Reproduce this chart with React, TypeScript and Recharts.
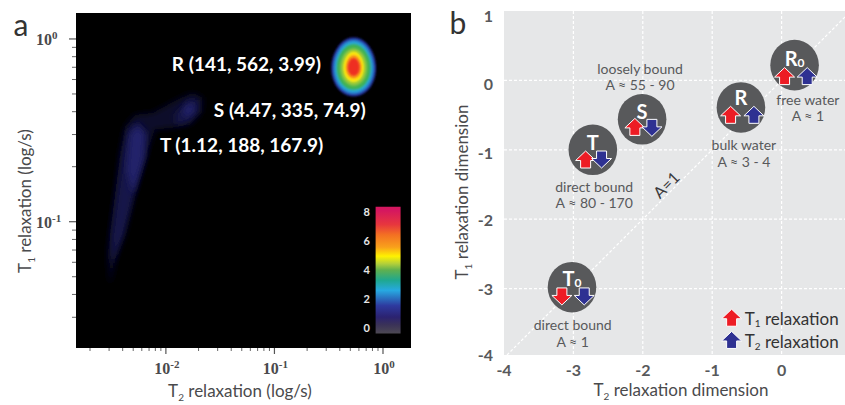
import { ScatterChart, Scatter, XAxis, YAxis, CartesianGrid, ReferenceArea, ReferenceLine } from 'recharts'

type Pt = [number, number]

// panel a, everything in log10 seconds
const decades = [-2, -1, 0]
const minorLogs = [0.301, 0.477, 0.602, 0.699, 0.778, 0.845, 0.903, 0.954]
const t2Domain = [-2.828, 0.258]
const t1Domain = [-1.691, 0.142]
const t2Minor = minorLogs.map(m => m - 3).concat(minorLogs.map(m => m - 2), minorLogs.map(m => m - 1))
const t1Minor = minorLogs.filter(m => m > 0.4).map(m => m - 2).concat(minorLogs.map(m => m - 1))

const ridgeOuter: Pt[] = [[-2.515, -1.35], [-2.534, -1.169], [-2.497, -0.989], [-2.46, -0.809], [-2.423, -0.623], [-2.377, -0.481], [-2.285, -0.415], [-2.12, -0.404], [-1.899, -0.333], [-1.752, -0.295], [-1.66, -0.322], [-1.669, -0.404], [-1.779, -0.47], [-1.936, -0.486], [-2.101, -0.497], [-2.166, -0.607], [-2.267, -0.787], [-2.359, -0.989], [-2.451, -1.169]]
const ridgeT: Pt[] = [[-2.497, -1.235], [-2.497, -1.071], [-2.442, -0.825], [-2.396, -0.634], [-2.35, -0.497], [-2.258, -0.454], [-2.175, -0.508], [-2.184, -0.634], [-2.285, -0.825], [-2.386, -1.071]]
const coreT: Pt[] = [[-2.359, -0.716], [-2.331, -0.525], [-2.258, -0.47], [-2.193, -0.525], [-2.212, -0.661], [-2.304, -0.852]]
const ridgeS: Pt[] = [[-1.917, -0.415], [-1.798, -0.333], [-1.706, -0.333], [-1.706, -0.399], [-1.798, -0.454], [-1.908, -0.47]]
const coreS: Pt[] = [[-1.844, -0.388], [-1.779, -0.35], [-1.733, -0.366], [-1.761, -0.415], [-1.825, -0.426]]

const blueContours: [Pt[], string][] = [
  [ridgeOuter, '#0a0a2a'],
  [ridgeT, '#14144a'],
  [ridgeS, '#14144a'],
  [coreT, '#20206a'],
  [coreS, '#20206a'],
]

const peakR: [Pt[], string][] = [
  [[[-0.042, -0.153], [-0.115, -0.027], [-0.27, 0.027], [-0.425, -0.027], [-0.498, -0.153], [-0.439, -0.279], [-0.27, -0.333], [-0.101, -0.279]], '#232a8e'],
  [[[-0.058, -0.153], [-0.126, -0.035], [-0.27, 0.015], [-0.414, -0.035], [-0.482, -0.153], [-0.427, -0.271], [-0.27, -0.321], [-0.113, -0.271]], '#2b6fc4'],
  [[[-0.078, -0.153], [-0.139, -0.044], [-0.27, 0.003], [-0.401, -0.044], [-0.462, -0.153], [-0.412, -0.262], [-0.27, -0.309], [-0.128, -0.262]], '#27a9d8'],
  [[[-0.098, -0.153], [-0.153, -0.056], [-0.27, -0.015], [-0.387, -0.056], [-0.442, -0.153], [-0.397, -0.25], [-0.27, -0.291], [-0.143, -0.25]], '#3fb254'],
  [[[-0.133, -0.153], [-0.177, -0.073], [-0.27, -0.039], [-0.363, -0.073], [-0.407, -0.153], [-0.371, -0.233], [-0.27, -0.267], [-0.169, -0.233]], '#8fc63f'],
  [[[-0.164, -0.153], [-0.198, -0.088], [-0.27, -0.06], [-0.342, -0.088], [-0.376, -0.153], [-0.348, -0.218], [-0.27, -0.246], [-0.192, -0.218]], '#fde910'],
  [[[-0.189, -0.153], [-0.215, -0.103], [-0.27, -0.081], [-0.325, -0.103], [-0.351, -0.153], [-0.33, -0.203], [-0.27, -0.225], [-0.21, -0.203]], '#f8981d'],
  [[[-0.209, -0.153], [-0.229, -0.115], [-0.27, -0.099], [-0.311, -0.115], [-0.331, -0.153], [-0.315, -0.191], [-0.27, -0.207], [-0.225, -0.191]], '#ee2e24'],
]

const peakLabels = [
  { x: -1.945, y: -0.137, text: 'R (141, 562, 3.99)' },
  { x: -1.558, y: -0.388, text: 'S (4.47, 335, 74.9)' },
  { x: -2.055, y: -0.579, text: 'T (1.12, 188, 167.9)' },
]
const colorbarLabels = [
  { x: -0.151, y: -0.945, text: '8' },
  { x: -0.151, y: -1.104, text: '6' },
  { x: -0.151, y: -1.262, text: '4' },
  { x: -0.151, y: -1.421, text: '2' },
  { x: -0.151, y: -1.579, text: '0' },
]
const colorbarStops: [string, string][] = [
  ['0%', '#d5175f'], ['3%', '#d5175f'], ['14%', '#e7363e'], ['22%', '#f36f23'], ['32%', '#f9a11b'],
  ['39%', '#fff200'], ['45%', '#b2cf3a'], ['50%', '#5fb04f'], ['58%', '#1fa88f'], ['66%', '#27a9e1'],
  ['78%', '#2e3a9f'], ['87%', '#2b2270'], ['93%', '#3a3258'], ['100%', '#4d4953'],
]

// panel b
const dimTicks = [-4, -3, -2, -1, 0, 1]
const gridLines = [-3, -2, -1, 0]
// the y labels drift a little off their gridlines in the original
const yLabelNudge: Record<number, number> = { 1: 5, 0: 4, '-1': 3, '-2': 1, '-3': 0, '-4': 0 }
const states = [
  { x: -2.72, y: -1.0, name: 'T', sub: '', dy: -8 },
  { x: -2.01, y: -0.56, name: 'S', sub: '', dy: -8 },
  { x: -0.586, y: -0.39, name: 'R', sub: '', dy: -10 },
  { x: 0.187, y: 0.22, name: 'R', sub: '0', dy: -7 },
  { x: -3.02, y: -2.98, name: 'T', sub: '0', dy: -9 },
]
const redUp = [{ x: -2.824, y: -1.14 }, { x: -2.114, y: -0.67 }, { x: -0.735, y: -0.496 }, { x: 0.043, y: 0.062 }, { x: -0.72, y: -3.42 }]
const redDown = [{ x: -3.166, y: -3.113 }]
const blueUp = [{ x: -0.399, y: -0.496 }, { x: 0.369, y: 0.062 }, { x: -0.72, y: -3.74 }]
const blueDown = [{ x: -2.594, y: -1.14 }, { x: -1.869, y: -0.684 }, { x: -2.844, y: -3.113 }]
const stateNotes = [
  { x: -2.04, y: 0.17, text: 'loosely bound' },
  { x: -2.04, y: -0.06, text: 'A ≈ 55 - 90' },
  { x: -2.7, y: -1.525, text: 'direct bound' },
  { x: -2.7, y: -1.76, text: 'A ≈ 80 - 170' },
  { x: -0.543, y: -0.925, text: 'bulk water' },
  { x: -0.543, y: -1.175, text: 'A ≈ 3 - 4' },
  { x: 0.379, y: -0.274, text: 'free water' },
  { x: 0.379, y: -0.5, text: 'A ≈ 1' },
  { x: -3.01, y: -3.515, text: 'direct bound' },
  { x: -3.01, y: -3.765, text: 'A ≈ 1' },
]
const lineNote = [{ x: -1.667, y: -1.5, text: 'A=1' }]
const legendNotes = [
  { x: -0.53, y: -3.43, sub: '1' },
  { x: -0.53, y: -3.75, sub: '2' },
]

const SANS = 'Lato, "Open Sans", sans-serif'
const SERIF = '"Liberation Serif", serif'
const TICK = '#555'
const INK = '#4a4a4c'

const hide = () => <g />

const LogTick = ({ x, y, payload, side }: any) => {
  const major = decades.includes(payload.value)
  const len: Record<string, number[]> = { bottom: [6, 3], top: [8, 3], left: [7, 4], right: [9, 6] }
  const l = len[side][major ? 0 : 1]
  const dir = side === 'bottom' || side === 'right' ? 1 : -1
  const vertical = side === 'bottom' || side === 'top'
  return (
    <g>
      <line
        x1={x} y1={y}
        x2={vertical ? x : x + dir * l}
        y2={vertical ? y + dir * l : y}
        stroke={TICK} strokeWidth={major ? 1.2 : 0.9}
      />
      {major && side === 'bottom' && (
        <text x={x + 1} y={y + 26} textAnchor="middle" fontFamily={SERIF} fontWeight="bold" fontSize={16} fill={INK}>
          10<tspan dy={-6} fontSize={11}>{payload.value}</tspan>
        </text>
      )}
      {major && side === 'left' && (
        <text x={36} y={y + 6} textAnchor="start" fontFamily={SERIF} fontWeight="bold" fontSize={16} fill={INK}>
          10<tspan dy={-6} fontSize={11}>{payload.value}</tspan>
        </text>
      )}
    </g>
  )
}

const DimTick = ({ x, y, payload, vertical }: any) => {
  const v = Math.round(payload.value)
  return (
    <text
      x={vertical ? x - 11 : x} y={vertical ? y + 6 + yLabelNudge[v] : y + 21}
      textAnchor={vertical ? 'end' : 'middle'}
      fontFamily={SANS} fontWeight="bold" fontSize={16} fill="#58595b"
    >
      {v}
    </text>
  )
}

const labelShape = (opts: any) => (props: any) => (
  <text x={props.cx} y={props.cy} dominantBaseline="central" fontFamily={SANS} {...opts}>
    {props.payload.text}
  </text>
)

const arrowShape = (fill: string, up: boolean) => (props: any) => {
  const s = up ? 1 : -1
  const p: Pt[] = [[0, -8.5], [10, 1], [5, 1], [5, 8.5], [-5, 8.5], [-5, 1], [-10, 1]]
  const d = p.map(([a, b]) => `${props.cx + a},${props.cy + s * b}`).join(' ')
  return <polygon points={d} fill={fill} stroke="#fff" strokeWidth={1} />
}

const stateShape = (props: any) => (
  <g>
    <ellipse cx={props.cx} cy={props.cy} rx={24.3} ry={25.3} fill="#58595b" />
    <text x={props.cx} y={props.cy + props.payload.dy} textAnchor="middle" dominantBaseline="central" fontFamily={SANS} fontWeight="bold" fontSize={20} fill="#fff">
      {props.payload.name}
      {props.payload.sub && <tspan dy={4} fontSize={12}>{props.payload.sub}</tspan>}
    </text>
  </g>
)

const legendShape = (props: any) => (
  <text x={props.cx} y={props.cy} dominantBaseline="central" fontFamily={SANS} fontSize={17} fill="#333">
    T<tspan dy={5} fontSize={10}>{props.payload.sub}</tspan><tspan dy={-5}> relaxation</tspan>
  </text>
)

function RelaxationMap() {
  return (
    <ScatterChart width={430} height={405} margin={{ top: 12, right: 18, bottom: 56, left: 75 }}>
      <defs>
        <filter id="blurWide" x="-30%" y="-30%" width="160%" height="160%"><feGaussianBlur stdDeviation="3" /></filter>
        <filter id="blurTight" x="-30%" y="-30%" width="160%" height="160%"><feGaussianBlur stdDeviation="1.2" /></filter>
        <linearGradient id="cbar" x1="0" y1="0" x2="0" y2="1">
          {colorbarStops.map(([o, c]) => <stop key={o} offset={o} stopColor={c} />)}
        </linearGradient>
      </defs>
      <CartesianGrid horizontal={false} vertical={false} fill="#000" />
      <XAxis type="number" dataKey="x" height={1} tickSize={0} tickMargin={0} domain={t2Domain} ticks={[...t2Minor, ...decades]} interval={0}
        axisLine={false} tickLine={false} tick={<LogTick side="bottom" />} />
      <XAxis type="number" dataKey="x" xAxisId="top" orientation="top" height={1} tickSize={0} tickMargin={0} domain={t2Domain} ticks={[...t2Minor, ...decades]} interval={0}
        axisLine={false} tickLine={false} tick={<LogTick side="top" />} />
      <YAxis type="number" dataKey="y" width={1} tickSize={0} tickMargin={0} domain={t1Domain} ticks={[...t1Minor, ...decades.slice(1)]} interval={0}
        axisLine={false} tickLine={false} tick={<LogTick side="left" />} />
      <YAxis type="number" dataKey="y" yAxisId="right" orientation="right" width={1} tickSize={0} tickMargin={0} domain={t1Domain} ticks={[...t1Minor, ...decades.slice(1)]} interval={0}
        axisLine={false} tickLine={false} tick={<LogTick side="right" />} />
      {blueContours.map(([pts, c], i) => (
        <Scatter key={`b${i}`} data={pts.map(([x, y]) => ({ x, y }))} shape={hide} isAnimationActive={false}
          line={{ fill: c, stroke: 'none', filter: 'url(#blurWide)' }} lineJointType="linearClosed" />
      ))}
      {peakR.map(([pts, c], i) => (
        <Scatter key={`r${i}`} data={pts.map(([x, y]) => ({ x, y }))} shape={hide} isAnimationActive={false}
          line={{ fill: c, stroke: 'none', filter: 'url(#blurTight)' }} lineJointType="basisClosed" />
      ))}
      <ReferenceArea x1={-0.068} x2={0.162} y1={-1.612} y2={-0.918} fill="url(#cbar)" fillOpacity={1} stroke="none" />
      <Scatter data={peakLabels} isAnimationActive={false} shape={labelShape({ fontWeight: 'bold', fontSize: 19, fill: '#fff' })} />
      <Scatter data={colorbarLabels} isAnimationActive={false} shape={labelShape({ fontWeight: 'bold', fontSize: 11, fill: '#e6e6e6', textAnchor: 'middle' })} />
      <text x={240} y={397} textAnchor="middle" fontFamily={SANS} fontSize={17} fill={INK}>
        T<tspan dy={4} fontSize={10}>2</tspan><tspan dy={-4}> relaxation (log/s)</tspan>
      </text>
      <text transform="translate(31,201) rotate(-90)" textAnchor="middle" fontFamily={SANS} fontSize={17} fill={INK}>
        T<tspan dy={4} fontSize={10}>1</tspan><tspan dy={-4}> relaxation (log/s)</tspan>
      </text>
      <text x={21} y={36} textAnchor="middle" fontFamily={SANS} fontSize={30} fill="#333">a</text>
    </ScatterChart>
  )
}

function DimensionPlot() {
  return (
    <ScatterChart width={420} height={405} margin={{ top: 11, right: 9, bottom: 49, left: 63 }}>
      <CartesianGrid fill="#e6e7e8" stroke="#fff" strokeDasharray="3 2" strokeWidth={1.2} verticalValues={gridLines} horizontalValues={gridLines} />
      <XAxis type="number" dataKey="x" height={1} tickSize={0} tickMargin={0} domain={[-4, 1]} ticks={dimTicks} interval={0}
        axisLine={false} tickLine={false} tick={<DimTick />} />
      <YAxis type="number" dataKey="y" width={1} tickSize={0} tickMargin={0} domain={[-3.957, 1]} ticks={[-3.957, -3, -2, -1, 0, 1]} interval={0}
        axisLine={false} tickLine={false} tick={<DimTick vertical />} />
      <ReferenceLine segment={[{ x: -3.957, y: -3.957 }, { x: 1, y: 1 }]} stroke="#fff" strokeDasharray="3 2" strokeWidth={1.2} />
      <Scatter data={states} isAnimationActive={false} shape={stateShape} />
      <Scatter data={redUp} isAnimationActive={false} shape={arrowShape('#ed1c24', true)} />
      <Scatter data={redDown} isAnimationActive={false} shape={arrowShape('#ed1c24', false)} />
      <Scatter data={blueUp} isAnimationActive={false} shape={arrowShape('#2e3192', true)} />
      <Scatter data={blueDown} isAnimationActive={false} shape={arrowShape('#2e3192', false)} />
      <Scatter data={stateNotes} isAnimationActive={false} shape={labelShape({ fontSize: 14, fill: '#58595b', textAnchor: 'middle' })} />
      <Scatter data={lineNote} isAnimationActive={false} shape={(p: any) => (
        <text transform={`translate(${p.cx},${p.cy}) rotate(-45)`} textAnchor="middle" dominantBaseline="central" fontFamily={SANS} fontSize={16} fill="#3a3a3c">{p.payload.text}</text>
      )} />
      <Scatter data={legendNotes} isAnimationActive={false} shape={legendShape} />
      <text x={241} y={396} textAnchor="middle" fontFamily={SANS} fontSize={17} fill={INK}>
        T<tspan dy={4} fontSize={10}>2</tspan><tspan dy={-4}> relaxation dimension</tspan>
      </text>
      <text transform="translate(28,192) rotate(-90)" textAnchor="middle" fontFamily={SANS} fontSize={17} fill={INK}>
        T<tspan dy={4} fontSize={10}>1</tspan><tspan dy={-4}> relaxation dimension</tspan>
      </text>
      <text x={18} y={34} textAnchor="middle" fontFamily={SANS} fontSize={30} fill="#333">b</text>
    </ScatterChart>
  )
}

export default function App() {
  return (
    <div style={{ position: 'absolute', left: 0, top: 0, width: 845, height: 405, overflow: 'hidden', background: '#fff' }}>
      <div style={{ position: 'absolute', left: 0, top: 0 }}><RelaxationMap /></div>
      <div style={{ position: 'absolute', left: 440, top: 0 }}><DimensionPlot /></div>
    </div>
  )
}
